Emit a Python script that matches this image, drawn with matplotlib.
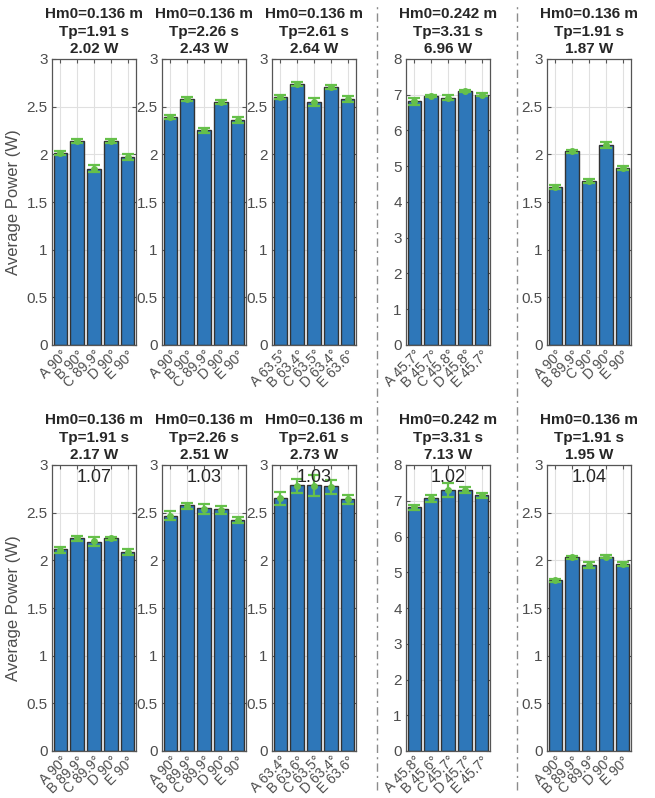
import numpy as np
import matplotlib
matplotlib.use('Agg')
import matplotlib.pyplot as plt
from matplotlib.lines import Line2D

plt.rcParams['font.family'] = ['Liberation Sans', 'DejaVu Sans']

# ---- data ----
hm0 = [0.136, 0.136, 0.136, 0.242, 0.136]
tp = [1.91, 2.26, 2.61, 3.31, 1.91]

mean_top = [2.02, 2.43, 2.64, 6.96, 1.87]
mean_bot = [2.17, 2.51, 2.73, 7.13, 1.95]
ratio_bot = ['1.07', '1.03', '1.03', '1.02', '1.04']

top_vals = [
    [2.01, 2.14, 1.85, 2.14, 1.97],
    [2.39, 2.58, 2.25, 2.55, 2.36],
    [2.60, 2.74, 2.55, 2.71, 2.58],
    [6.82, 6.96, 6.91, 7.11, 7.00],
    [1.66, 2.03, 1.72, 2.10, 1.86],
]
top_err = [
    [0.02, 0.02, 0.04, 0.02, 0.03],
    [0.02, 0.02, 0.03, 0.02, 0.03],
    [0.02, 0.02, 0.04, 0.02, 0.03],
    [0.10, 0.03, 0.07, 0.03, 0.04],
    [0.02, 0.02, 0.02, 0.03, 0.02],
]
bot_vals = [
    [2.12, 2.23, 2.19, 2.23, 2.09],
    [2.47, 2.58, 2.55, 2.54, 2.42],
    [2.65, 2.79, 2.79, 2.78, 2.64],
    [6.82, 7.08, 7.30, 7.30, 7.15],
    [1.79, 2.03, 1.95, 2.04, 1.96],
]
bot_mark = [
    [2.11, 2.23, 2.20, 2.23, 2.09],
    [2.47, 2.57, 2.54, 2.53, 2.42],
    [2.65, 2.78, 2.78, 2.77, 2.64],
    [6.82, 7.07, 7.30, 7.30, 7.15],
    [1.79, 2.03, 1.95, 2.04, 1.96],
]
bot_err = [
    [0.03, 0.03, 0.05, 0.015, 0.03],
    [0.05, 0.03, 0.05, 0.04, 0.03],
    [0.07, 0.07, 0.11, 0.07, 0.05],
    [0.07, 0.10, 0.20, 0.08, 0.07],
    [0.015, 0.015, 0.03, 0.015, 0.02],
]

letters = ['A', 'B', 'C', 'D', 'E']
top_angles = [
    ['90', '90', '89.9', '90', '90'],
    ['90', '90', '89.9', '90', '90'],
    ['63.5', '63.4', '63.5', '63.4', '63.6'],
    ['45.7', '45.7', '45.8', '45.8', '45.7'],
    ['90', '89.9', '90', '90', '90'],
]
bot_angles = [
    ['90', '89.9', '89.9', '90', '90'],
    ['90', '89.9', '89.9', '90', '90'],
    ['63.4', '63.6', '63.5', '63.4', '63.6'],
    ['45.8', '45.6', '45.7', '45.7', '45.7'],
    ['90', '89.9', '89.9', '90', '90'],
]

bar_color = '#2E77B9'
err_color = '#66C04A'
txt_color = '#4D4D4D'

W, H = 655, 798
fig = plt.figure(figsize=(W / 100, H / 100), dpi=100)

lefts = [52, 162, 272, 406, 547]
aw = 84
row_tops = [59, 465]
ah = 286


def draw_panel(ax, vals, marks, errs, angles, title, ymax, ratio=None, ylabel=False):
    x = np.arange(5)
    ax.bar(x, vals, width=0.8, color=bar_color, edgecolor='#333333', linewidth=1.0, zorder=2)
    ax.errorbar(x, marks, yerr=errs, fmt='o', color=err_color, ms=4,
                elinewidth=1.6, capsize=4, capthick=1.6, zorder=3)
    ax.set_xlim(-0.5, 4.5)
    ax.set_ylim(0, ymax)
    if ymax == 3:
        ax.set_yticks(np.arange(0, 3.01, 0.5))
        ax.set_yticklabels(['0', '0.5', '1', '1.5', '2', '2.5', '3'])
    else:
        ax.set_yticks(np.arange(0, 9, 1))
    ax.set_xticks(x)
    ax.set_xticklabels([l + ' ' + a + '\u00b0' for l, a in zip(letters, angles)],
                       rotation=45, ha='right', rotation_mode='anchor')
    ax.grid(True, color='#E0E0E0', linewidth=0.8, zorder=0)
    ax.set_axisbelow(True)
    ax.tick_params(direction='in', top=True, right=True, length=3, width=0.8,
                   colors='#555555', labelcolor=txt_color, labelsize=11, pad=3)
    ax.tick_params(axis='x', labelsize=10, pad=2)
    for s in ax.spines.values():
        s.set_color('#555555')
        s.set_linewidth(0.9)
    ax.set_title(title, fontsize=11, fontweight='bold', color='#262626', pad=4,
                 linespacing=1.35)
    if ratio is not None:
        ax.text(0.5, 0.985, ratio, transform=ax.transAxes, ha='center', va='top',
                fontsize=13, color='#262626', zorder=4)
    if ylabel:
        ax.set_ylabel('Average Power (W)', fontsize=12, color=txt_color, labelpad=4)


for r in range(2):
    for c in range(5):
        ax = fig.add_axes([lefts[c] / W, 1 - (row_tops[r] + ah) / H, aw / W, ah / H])
        ymax = 8 if c == 3 else 3
        if r == 0:
            t = 'Hm0=%.3f m\nTp=%.2f s\n%.2f W' % (hm0[c], tp[c], mean_top[c])
            draw_panel(ax, top_vals[c], top_vals[c], top_err[c], top_angles[c], t, ymax,
                       ylabel=(c == 0))
        else:
            t = 'Hm0=%.3f m\nTp=%.2f s\n%.2f W' % (hm0[c], tp[c], mean_bot[c])
            draw_panel(ax, bot_vals[c], bot_mark[c], bot_err[c], bot_angles[c], t, ymax,
                       ratio=ratio_bot[c], ylabel=(c == 0))

# dash-dot separators
for xp in [377, 517]:
    fig.add_artist(Line2D([xp / W, xp / W], [0.01, 0.995], color='#8C8C8C',
                          linestyle=(0, (6, 3, 1.5, 3)), linewidth=1.0))

fig.savefig('out.png', dpi=100)
